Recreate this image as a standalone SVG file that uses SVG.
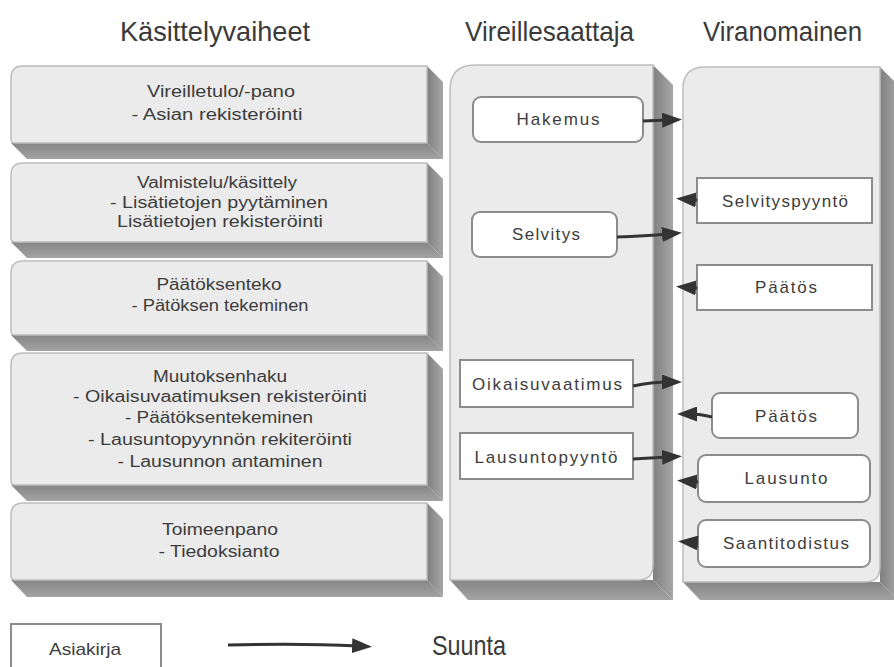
<svg xmlns="http://www.w3.org/2000/svg" width="894" height="667" viewBox="0 0 894 667">
  <defs>
    <linearGradient id="sideGrad" x1="0" y1="0" x2="1" y2="0">
      <stop offset="0" stop-color="#808080"/>
      <stop offset="1" stop-color="#a6a6a6"/>
    </linearGradient>
    <linearGradient id="bottomGrad" x1="0" y1="0" x2="0" y2="1">
      <stop offset="0" stop-color="#858585"/>
      <stop offset="1" stop-color="#a3a3a3"/>
    </linearGradient>
    <marker id="head" markerUnits="userSpaceOnUse" markerWidth="20" markerHeight="15" refX="6" refY="7.5" orient="auto">
      <path d="M0,0 L20,7.5 L0,15 Z" fill="#333"/>
    </marker>
  </defs>
  <style>
    .face { fill: #ebebeb; stroke: #bdbdbd; stroke-width: 1.5; }
    .side { fill: url(#sideGrad); }
    .bottom { fill: url(#bottomGrad); }
    .title { font-family: "Liberation Sans", Arial, sans-serif; font-size: 28px; fill: #3a3a3a; }
    .stage { font-family: "Liberation Sans", Arial, sans-serif; font-size: 16px; fill: #3c3c3c; text-anchor: middle; }
    .doc { fill: #ffffff; stroke: #8c8c8c; stroke-width: 2; }
    .doctext { font-family: "Liberation Sans", Arial, sans-serif; font-size: 17px; fill: #3c3c3c; text-anchor: middle; }
    .flow { fill: none; stroke: #333; stroke-width: 3; marker-end: url(#head); }
  </style>

  <!-- column headings -->
  <g id="headings">
    <text class="title" x="120" y="41" textLength="190" lengthAdjust="spacingAndGlyphs">Käsittelyvaiheet</text>
    <text class="title" x="465" y="41" textLength="169" lengthAdjust="spacingAndGlyphs">Vireillesaattaja</text>
    <text class="title" x="703" y="41" textLength="159" lengthAdjust="spacingAndGlyphs">Viranomainen</text>
  </g>

  <!-- processing stages: slabs with a bevelled depth to the lower right -->
  <g id="stage-vireilletulo">
    <polygon class="bottom" points="11,143 427,143 443,159 27,159"/>
    <polygon class="side" points="427,66 443,82 443,159 427,143"/>
    <path class="face" d="M11,78 Q11,66 23,66 L427,66 L427,143 L15,143 Q11,143 11,139 Z"/>
    <text class="stage" x="221" y="97" textLength="148" lengthAdjust="spacingAndGlyphs">Vireilletulo/-pano</text>
    <text class="stage" x="217" y="120" textLength="171" lengthAdjust="spacingAndGlyphs">- Asian rekisteröinti</text>
  </g>
  <g id="stage-valmistelu">
    <polygon class="bottom" points="11,242 427,242 443,258 27,258"/>
    <polygon class="side" points="427,163 443,179 443,258 427,242"/>
    <path class="face" d="M11,175 Q11,163 23,163 L427,163 L427,242 L15,242 Q11,242 11,238 Z"/>
    <text class="stage" x="217" y="188" textLength="160" lengthAdjust="spacingAndGlyphs">Valmistelu/käsittely</text>
    <text class="stage" x="219" y="208" textLength="218" lengthAdjust="spacingAndGlyphs">- Lisätietojen pyytäminen</text>
    <text class="stage" x="220" y="227" textLength="206" lengthAdjust="spacingAndGlyphs">Lisätietojen rekisteröinti</text>
  </g>
  <g id="stage-paatoksenteko">
    <polygon class="bottom" points="11,335 427,335 443,351 27,351"/>
    <polygon class="side" points="427,261 443,277 443,351 427,335"/>
    <path class="face" d="M11,273 Q11,261 23,261 L427,261 L427,335 L15,335 Q11,335 11,331 Z"/>
    <text class="stage" x="219" y="290" textLength="125" lengthAdjust="spacingAndGlyphs">Päätöksenteko</text>
    <text class="stage" x="220" y="311" textLength="177" lengthAdjust="spacingAndGlyphs">- Pätöksen tekeminen</text>
  </g>
  <g id="stage-muutoksenhaku">
    <polygon class="bottom" points="11,485 427,485 443,501 27,501"/>
    <polygon class="side" points="427,353 443,369 443,501 427,485"/>
    <path class="face" d="M11,365 Q11,353 23,353 L427,353 L427,485 L15,485 Q11,485 11,481 Z"/>
    <text class="stage" x="220" y="382" textLength="134" lengthAdjust="spacingAndGlyphs">Muutoksenhaku</text>
    <text class="stage" x="220" y="402" textLength="294" lengthAdjust="spacingAndGlyphs">- Oikaisuvaatimuksen rekisteröinti</text>
    <text class="stage" x="219" y="423" textLength="188" lengthAdjust="spacingAndGlyphs">- Päätöksentekeminen</text>
    <text class="stage" x="220" y="445" textLength="264" lengthAdjust="spacingAndGlyphs">- Lausuntopyynnön rekiteröinti</text>
    <text class="stage" x="220" y="467" textLength="205" lengthAdjust="spacingAndGlyphs">- Lausunnon antaminen</text>
  </g>
  <g id="stage-toimeenpano">
    <polygon class="bottom" points="11,580 427,580 443,597 27,597"/>
    <polygon class="side" points="427,503 443,519 443,597 427,580"/>
    <path class="face" d="M11,515 Q11,503 23,503 L427,503 L427,580 L15,580 Q11,580 11,576 Z"/>
    <text class="stage" x="220" y="535" textLength="116" lengthAdjust="spacingAndGlyphs">Toimeenpano</text>
    <text class="stage" x="219" y="557" textLength="121" lengthAdjust="spacingAndGlyphs">- Tiedoksianto</text>
  </g>

  <!-- swimlane panels -->
  <g id="lane-vireillesaattaja">
    <polygon class="bottom" points="450,580 653,580 673,600 468,600"/>
    <polygon class="side" points="653,65 673,85 673,600 653,580"/>
    <path class="face" d="M450,90 Q450,65 475,65 L653,65 L653,565 Q653,580 638,580 L450,580 Z"/>
  </g>
  <g id="lane-viranomainen">
    <polygon class="bottom" points="683,582 880,582 898,600 700,600"/>
    <polygon class="side" points="880,67 898,85 898,600 880,582"/>
    <path class="face" d="M683,89 Q683,67 705,67 L880,67 L880,567 Q880,582 865,582 L683,582 Z"/>
  </g>

  <!-- documents -->
  <g id="doc-hakemus">
    <rect class="doc" x="473" y="97" width="170" height="45" rx="8"/>
    <text class="doctext" x="558" y="125" textLength="83" lengthAdjust="spacing">Hakemus</text>
  </g>
  <g id="doc-selvitys">
    <rect class="doc" x="472" y="212" width="145" height="45" rx="8"/>
    <text class="doctext" x="546" y="240" textLength="68" lengthAdjust="spacing">Selvitys</text>
  </g>
  <g id="doc-selvityspyynto">
    <rect class="doc" x="697" y="178" width="175" height="45"/>
    <text class="doctext" x="785" y="207" textLength="126" lengthAdjust="spacing">Selvityspyyntö</text>
  </g>
  <g id="doc-paatos-1">
    <rect class="doc" x="697" y="265" width="175" height="45"/>
    <text class="doctext" x="786" y="293" textLength="62" lengthAdjust="spacing">Päätös</text>
  </g>
  <g id="doc-oikaisuvaatimus">
    <rect class="doc" x="460" y="360" width="173" height="47"/>
    <text class="doctext" x="547" y="390" textLength="150" lengthAdjust="spacing">Oikaisuvaatimus</text>
  </g>
  <g id="doc-paatos-2">
    <rect class="doc" x="712" y="393" width="146" height="45" rx="8"/>
    <text class="doctext" x="786" y="422" textLength="62" lengthAdjust="spacing">Päätös</text>
  </g>
  <g id="doc-lausuntopyynto">
    <rect class="doc" x="460" y="433" width="173" height="46"/>
    <text class="doctext" x="546" y="463" textLength="143" lengthAdjust="spacing">Lausuntopyyntö</text>
  </g>
  <g id="doc-lausunto">
    <rect class="doc" x="698" y="455" width="172" height="47" rx="8"/>
    <text class="doctext" x="786" y="484" textLength="83" lengthAdjust="spacing">Lausunto</text>
  </g>
  <g id="doc-saantitodistus">
    <rect class="doc" x="698" y="520" width="172" height="47" rx="8"/>
    <text class="doctext" x="786" y="549" textLength="126" lengthAdjust="spacing">Saantitodistus</text>
  </g>

  <!-- document flow between the parties -->
  <g id="connectors">
    <path class="flow" d="M643,121 L668,120"/>
    <path class="flow" d="M617,237 Q645,236 668,234"/>
    <path class="flow" d="M697,200 L690,199.5"/>
    <path class="flow" d="M697,288 L690,287.5"/>
    <path class="flow" d="M633,386 Q652,382 668,382"/>
    <path class="flow" d="M712,417 Q700,414 691,414"/>
    <path class="flow" d="M633,459 L668,457"/>
    <path class="flow" d="M698,482 L691,481.5"/>
    <path class="flow" d="M698,543 L692,542.5"/>
  </g>

  <!-- legend -->
  <g id="legend">
    <rect class="doc" x="11" y="624" width="150" height="50"/>
    <text class="doctext" x="85" y="655" textLength="72" lengthAdjust="spacingAndGlyphs">Asiakirja</text>
    <path class="flow" d="M228,645 Q300,643 358,646"/>
    <text class="title" x="432" y="655" font-size="24" textLength="74" lengthAdjust="spacingAndGlyphs">Suunta</text>
  </g>
</svg>
